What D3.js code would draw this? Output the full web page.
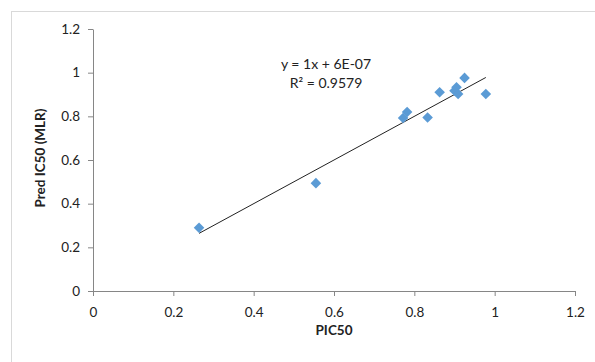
<!DOCTYPE html>
<html>
<head>
<meta charset="utf-8">
<script src="https://cdn.jsdelivr.net/npm/d3@7"></script>
<style>
    body { margin: 0; background: #fff; }
    svg text { font-family: Lato, "Open Sans", sans-serif; fill: #222; }
    .axis path, .axis line { stroke: #868686; }
</style>
</head>
<body>
<svg id="chart" width="595" height="362"></svg>
<script>
var pic50 = [0.264, 0.555, 0.772, 0.782, 0.833, 0.863, 0.900, 0.905, 0.909, 0.925, 0.978];
var predIC50 = [0.290, 0.494, 0.792, 0.820, 0.795, 0.910, 0.917, 0.933, 0.902, 0.976, 0.902];

var xTicks = [0, 0.2, 0.4, 0.6, 0.8, 1, 1.2];
var yTicks = [0, 0.2, 0.4, 0.6, 0.8, 1, 1.2];
var tickLabels = ["0", "0.2", "0.4", "0.6", "0.8", "1", "1.2"];

// trend line from the chart label
var slope = 1;
var intercept = 6e-7;
var eqText = "y = 1x + 6E-07";
var r2Text = "R\u00B2 = 0.9579";

var svg = d3.select("#chart");

// outer chart border (runs off the right / bottom edge)
svg.append("rect")
    .attr("x", 11.5).attr("y", 11.5)
    .attr("width", 600).attr("height", 400)
    .attr("fill", "none")
    .attr("stroke", "#d9d9d9");

var x = d3.scaleLinear().domain([0, 1.2]).range([93, 575]);
var y = d3.scaleLinear().domain([0, 1.2]).range([291, 29]);

svg.append("g")
    .attr("class", "axis")
    .attr("transform", "translate(0," + y(0) + ")")
    .call(d3.axisBottom(x).tickValues(xTicks).tickSize(5).tickSizeOuter(0)
        .tickFormat(function (d, i) { return tickLabels[i]; }))
    .selectAll("text")
    .attr("dy", "1.3em")
    .style("font-size", "13.5px");

svg.append("g")
    .attr("class", "axis")
    .attr("transform", "translate(" + x(0) + ",0)")
    .call(d3.axisLeft(y).tickValues(yTicks).tickSize(5).tickSizeOuter(0)
        .tickFormat(function (d, i) { return tickLabels[i]; }))
    .selectAll("text")
    .attr("x", -13)
    .style("font-size", "13.5px");

svg.selectAll(".axis .domain").attr("stroke", "#868686");

// axis titles
svg.append("text")
    .attr("x", x(0.6)).attr("y", 335)
    .attr("text-anchor", "middle")
    .style("font-size", "13.5px").style("font-weight", "bold")
    .text("PIC50");

svg.append("text")
    .attr("transform", "translate(45,158) rotate(-90)")
    .attr("text-anchor", "middle")
    .style("font-size", "13.5px").style("font-weight", "bold")
    .text("Pred IC50 (MLR)");

// linear trendline over the data range
var xMin = d3.min(pic50), xMax = d3.max(pic50);
svg.append("line")
    .attr("x1", x(xMin)).attr("y1", y(slope * xMin + intercept))
    .attr("x2", x(xMax)).attr("y2", y(slope * xMax + intercept))
    .attr("stroke", "#222")
    .attr("stroke-width", 1);

// diamond markers
var pts = pic50.map(function (v, i) { return {x: v, y: predIC50[i]}; });
svg.selectAll("path.pt")
    .data(pts)
    .enter().append("path")
    .attr("class", "pt")
    .attr("d", d3.symbol().type(d3.symbolSquare).size(56))
    .attr("transform", function (d) {
        return "translate(" + x(d.x) + "," + y(d.y) + ") rotate(45)";
    })
    .attr("fill", "#5b9bd5");

// equation label
svg.append("text")
    .attr("x", 326).attr("y", 69)
    .attr("text-anchor", "middle")
    .style("font-size", "14px")
    .text(eqText);

svg.append("text")
    .attr("x", 326).attr("y", 88)
    .attr("text-anchor", "middle")
    .style("font-size", "14px")
    .text(r2Text);
</script>
</body>
</html>
